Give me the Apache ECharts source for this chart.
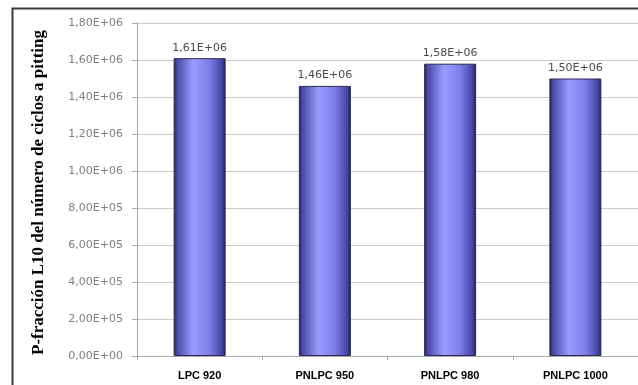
<!DOCTYPE html>
<html>
<head>
<meta charset="utf-8">
<script src="https://cdn.jsdelivr.net/npm/echarts@6/dist/echarts.min.js"></script>
<style>
  html, body { margin: 0; padding: 0; background: #ffffff; }
  #chart { width: 638px; height: 385px; }
</style>
</head>
<body>
<div id="chart"></div>
<script>
// Probetas ensayadas y vida L10 a pitting (ciclos)
const categories = ['LPC 920', 'PNLPC 950', 'PNLPC 980', 'PNLPC 1000'];
const cycleValues = [1.61e6, 1.46e6, 1.58e6, 1.50e6];
const yTicks = { min: 0, max: 1.8e6, interval: 2e5 };
const yTitle = 'P-fracción L10 del número de ciclos a pitting';

// Spanish-style scientific notation: 1,61E+06
function sci(v) {
  if (v === 0) return '0,00E+00';
  const e = Math.floor(Math.log10(Math.abs(v)));
  const m = (v / Math.pow(10, e)).toFixed(2).replace('.', ',');
  const sign = e < 0 ? '-' : '+';
  const ee = String(Math.abs(e)).padStart(2, '0');
  return m + 'E' + sign + ee;
}

const barGradient = new echarts.graphic.LinearGradient(0, 0, 1, 0, [
  { offset: 0, color: '#24244e' },
  { offset: 0.07, color: '#4a4aa8' },
  { offset: 0.38, color: '#9c9cff' },
  { offset: 0.7, color: '#7c7ce8' },
  { offset: 0.93, color: '#4444a4' },
  { offset: 1, color: '#20204a' }
]);

const chart = echarts.init(document.getElementById('chart'), null, { renderer: 'canvas' });
chart.setOption({
  animation: false,
  backgroundColor: '#ffffff',
  graphic: [
    {
      type: 'rect',
      left: 10, top: 6,
      shape: { width: 700, height: 500 },
      style: { fill: 'none', stroke: '#3a3a3a', lineWidth: 2 },
      z: 0
    },
    {
      type: 'text',
      left: 30, top: 'middle',
      rotation: Math.PI / 2,
      style: {
        text: yTitle,
        font: 'bold 17px "Liberation Serif", "Times New Roman", serif',
        fill: '#000000'
      }
    }
  ],
  grid: { left: 137, right: -2, top: 23, bottom: 29, containLabel: false },
  xAxis: {
    type: 'category',
    data: categories,
    axisLine: { lineStyle: { color: '#a8a8a8', width: 1 } },
    axisTick: { show: true, alignWithLabel: false, length: 4, lineStyle: { color: '#a8a8a8' } },
    axisLabel: {
      margin: 14,
      color: '#000000',
      fontFamily: '"Liberation Sans", Arial, sans-serif',
      fontWeight: 'bold',
      fontSize: 11
    }
  },
  yAxis: {
    type: 'value',
    min: yTicks.min,
    max: yTicks.max,
    interval: yTicks.interval,
    axisLine: { show: true, lineStyle: { color: '#a8a8a8' } },
    axisTick: { show: true, length: 5, lineStyle: { color: '#a8a8a8' } },
    splitLine: { lineStyle: { color: '#cccccc', width: 1 } },
    axisLabel: {
      margin: 14,
      color: '#808080',
      fontFamily: '"DejaVu Sans", sans-serif',
      fontSize: 11,
      formatter: sci
    }
  },
  series: [{
    type: 'bar',
    data: cycleValues,
    barWidth: 52,
    itemStyle: { color: barGradient, borderColor: '#2a2a50', borderWidth: 1 },
    label: {
      show: true,
      position: 'top',
      distance: 5,
      color: '#4a4a4a',
      fontFamily: '"DejaVu Sans", sans-serif',
      fontSize: 11,
      formatter: p => sci(p.value)
    }
  }]
});
</script>
</body>
</html>
